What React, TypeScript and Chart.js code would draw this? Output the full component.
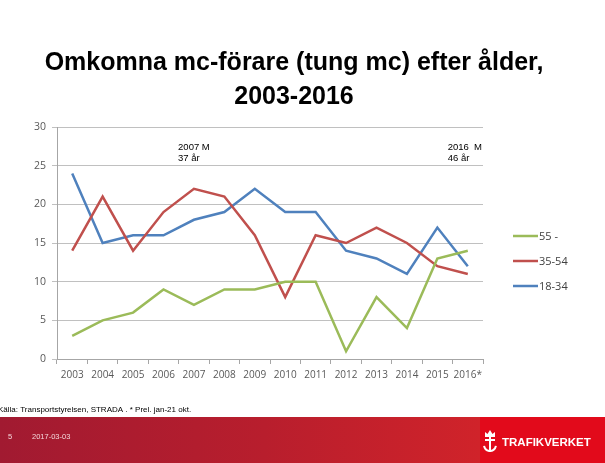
import React, { useEffect, useRef } from 'react';
import { Chart, registerables } from 'chart.js';

Chart.register(...registerables);

const years = ['2003', '2004', '2005', '2006', '2007', '2008', '2009', '2010', '2011', '2012', '2013', '2014', '2015', '2016*'];
const seriesNames = ['55 -', '35-54', '18-34'];
const age55plus = [3, 5, 6, 9, 7, 9, 9, 10, 10, 1, 8, 4, 13, 14];
const age35to54 = [14, 21, 14, 19, 22, 21, 16, 8, 16, 15, 17, 15, 12, 11];
const age18to34 = [24, 15, 16, 16, 18, 19, 22, 19, 19, 14, 13, 11, 17, 12];
const seriesColors = ['#9BBB59', '#C0504D', '#4F81BD'];
const yTicks = [0, 5, 10, 15, 20, 25, 30];
const titleLines = ['Omkomna mc-förare (tung mc) efter ålder,', '2003-2016'];
const noteYears = ['2007', '2016*'];
const noteTexts = [['2007 M', '37 år'], ['2016  M', '46 år']];
const noteValue = 27.4;
const sourceText = 'Källa: Transportstyrelsen, STRADA . * Prel. jan-21 okt.';
const slideNo = '5';
const slideDate = '2017-03-03';
const brandName = 'TRAFIKVERKET';

const decorPlugin = {
  id: 'decor',
  afterDraw(chart: any) {
    const ctx = chart.ctx as CanvasRenderingContext2D;
    const W = chart.width;
    const H = chart.height;
    const xs = chart.scales.x;
    const ys = chart.scales.y;
    ctx.save();

    // Title
    ctx.fillStyle = '#000';
    ctx.font = 'bold 25px "Liberation Sans", Arial, sans-serif';
    ctx.textAlign = 'center';
    ctx.textBaseline = 'middle';
    ctx.fillText(titleLines[0], 294, 63);
    ctx.fillText(titleLines[1], 294, 97);

    // Notes
    ctx.font = '9.5px "Liberation Sans", Arial, sans-serif';
    ctx.textAlign = 'left';
    noteYears.forEach((yr, i) => {
      const cx = xs.getPixelForValue(years.indexOf(yr));
      const cy = ys.getPixelForValue(noteValue);
      const lines = noteTexts[i];
      const mw = Math.max(...lines.map((l) => ctx.measureText(l).width));
      const left = Math.min(cx - mw / 2, chart.chartArea.right - mw - 1);
      lines.forEach((l, j) => ctx.fillText(l, left, cy + j * 11));
    });

    // Legend
    ctx.font = '11px "Open Sans", sans-serif';
    ctx.textBaseline = 'middle';
    chart.data.datasets.forEach((ds: any, i: number) => {
      const y = 236 + i * 25;
      ctx.strokeStyle = ds.borderColor;
      ctx.lineWidth = 2.5;
      ctx.beginPath();
      ctx.moveTo(513, y);
      ctx.lineTo(538, y);
      ctx.stroke();
      ctx.fillStyle = '#404040';
      ctx.fillText(ds.label, 539, y + 0.5);
    });

    // Footer band
    const top = 417;
    const grad = ctx.createLinearGradient(0, 0, 480, 0);
    grad.addColorStop(0, '#a11a31');
    grad.addColorStop(0.55, '#b81e2d');
    grad.addColorStop(1, '#d0232a');
    ctx.fillStyle = grad;
    ctx.fillRect(0, top, 480, H - top);
    ctx.fillStyle = '#e20a1b';
    ctx.fillRect(480, top, W - 480, H - top);

    // Source
    ctx.fillStyle = '#000';
    ctx.font = '8px "Liberation Sans Narrow", "Liberation Sans", sans-serif';
    ctx.textAlign = 'left';
    ctx.fillText(sourceText, -2, 410);

    // Slide number & date
    ctx.fillStyle = '#f4d6da';
    ctx.font = '7.5px "Liberation Sans Narrow", "Liberation Sans", sans-serif';
    ctx.fillText(slideNo, 8, 437);
    ctx.fillText(slideDate, 32, 437);

    // Brand
    ctx.fillStyle = '#fff';
    ctx.font = 'bold 11.5px "Liberation Sans", Arial, sans-serif';
    ctx.fillText(brandName, 502, 443);
    // simple emblem
    ctx.strokeStyle = '#fff';
    ctx.lineWidth = 2;
    ctx.beginPath();
    ctx.moveTo(490, 437);
    ctx.lineTo(490, 452);
    ctx.moveTo(485, 440);
    ctx.lineTo(495, 440);
    ctx.stroke();
    ctx.beginPath();
    ctx.arc(490, 445, 6, 0.05 * Math.PI, 0.95 * Math.PI);
    ctx.stroke();
    ctx.fillStyle = '#fff';
    ctx.beginPath();
    ctx.moveTo(485, 437);
    ctx.lineTo(485, 432);
    ctx.lineTo(487.5, 434);
    ctx.lineTo(490, 430);
    ctx.lineTo(492.5, 434);
    ctx.lineTo(495, 432);
    ctx.lineTo(495, 437);
    ctx.closePath();
    ctx.fill();

    ctx.restore();
  },
};

export default function App() {
  const ref = useRef<HTMLCanvasElement | null>(null);
  useEffect(() => {
    document.body.style.margin = '0';
    const canvas = ref.current!;
    const chart = new Chart(canvas, {
      type: 'line',
      data: {
        labels: years,
        datasets: [
          { label: seriesNames[0], data: age55plus, borderColor: seriesColors[0], backgroundColor: seriesColors[0] },
          { label: seriesNames[1], data: age35to54, borderColor: seriesColors[1], backgroundColor: seriesColors[1] },
          { label: seriesNames[2], data: age18to34, borderColor: seriesColors[2], backgroundColor: seriesColors[2] },
        ],
      },
      options: {
        responsive: false,
        animation: false,
        devicePixelRatio: 1,
        elements: {
          line: { borderWidth: 2.5, tension: 0 },
          point: { radius: 0, hoverRadius: 0 },
        },
        layout: { padding: { left: 0, right: 122, top: 127, bottom: 84 } },
        plugins: {
          legend: { display: false },
          title: { display: false },
          tooltip: { enabled: false },
        },
        scales: {
          x: {
            offset: true,
            grid: {
              offset: true,
              drawOnChartArea: false,
              drawTicks: true,
              tickLength: 5,
              color: '#a6a6a6',
            },
            border: { color: '#a6a6a6' },
            ticks: {
              color: '#595959',
              font: { family: '"Open Sans", sans-serif', size: 10 },
              padding: 5,
              maxRotation: 0,
              autoSkip: false,
            },
            afterFit(scale: any) {
              scale.height = 20;
            },
          },
          y: {
            min: 0,
            max: 30,
            afterBuildTicks(scale: any) {
              scale.ticks = yTicks.map((v) => ({ value: v }));
            },
            grid: {
              color: '#c0c0c0',
              tickLength: 5,
              drawTicks: true,
            },
            border: { display: true, color: '#a6a6a6' },
            ticks: {
              color: '#595959',
              font: { family: '"Open Sans", sans-serif', size: 10.5 },
              padding: 6,
            },
            afterFit(scale: any) {
              scale.width = 57;
            },
          },
        },
      },
      plugins: [decorPlugin],
    });
    return () => chart.destroy();
  }, []);
  return (
    <canvas ref={ref} width={605} height={463} style={{ display: 'block', width: 605, height: 463 }} />
  );
}
